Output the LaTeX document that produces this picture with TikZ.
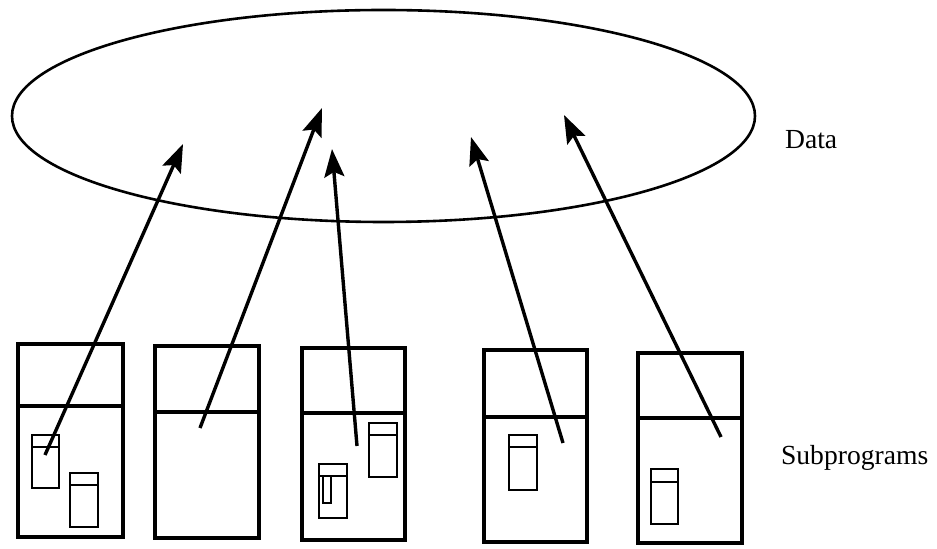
\documentclass[tikz,border=0pt]{standalone}
\usepackage{fontspec}
\setmainfont{Liberation Serif}
\usetikzlibrary{arrows.meta}

\begin{document}
\begin{tikzpicture}[x=0.5pt,y=-0.5pt,
					prog/.style={line width=1.8pt},
					part/.style={line width=0.9pt},
					link/.style={line width=1.7pt, -{Stealth[length=14pt,width=10pt,inset=2.5pt]}},
					label/.style={anchor=west, font=\fontsize{13.8}{16}\selectfont},
					]
					\useasboundingbox (0,0) rectangle (937,549);
					%Data
					\draw[line width=1.3pt] (383.5,116) ellipse [x radius=371.5, y radius=106];
					\node[label] (datalabel) at (778,140) {Data};
					\node[label] (sublabel) at (774,458) {Subprograms};
					
					%Subprograms
					\draw[prog] (18,344) rectangle (123,537);  \draw[prog] (18,406) -- (123,406);
					\draw[prog] (155,346) rectangle (259,538); \draw[prog] (155,412) -- (259,412);
					\draw[prog] (302,348) rectangle (405,540); \draw[prog] (302,413) -- (405,413);
					\draw[prog] (484,350) rectangle (587,542); \draw[prog] (484,417) -- (587,417);
					\draw[prog] (638,353) rectangle (742,543); \draw[prog] (638,418) -- (742,418);
					
					%Parts
					\draw[part] (32,435) rectangle (59,488);   \draw[part] (32,447) -- (59,447);
					\draw[part] (70,473) rectangle (98,527);   \draw[part] (70,485) -- (98,485);
					\draw[part] (369,423) rectangle (397,477); \draw[part] (369,435) -- (397,435);
					\draw[part] (319,464) rectangle (347,518); \draw[part] (319,476) -- (347,476);
					\draw[part] (323,476) rectangle (331,503);
					\draw[part] (509,435) rectangle (537,490); \draw[part] (509,447) -- (537,447);
					\draw[part] (651,469) rectangle (678,524); \draw[part] (651,482) -- (678,482);
					
					%Lines
					\coordinate (p1) at (45,455);  \coordinate (d1) at (183,144);
					\coordinate (p2) at (200,428); \coordinate (d2) at (322,108);
					\coordinate (p3) at (357,446); \coordinate (d3) at (332,149);
					\coordinate (p4) at (563,443); \coordinate (d4) at (471,137);
					\coordinate (p5) at (721,437); \coordinate (d5) at (564,115);
					\foreach \i in {1,...,5}
						\draw[link] (p\i) -- (d\i);
				\end{tikzpicture}
\end{document}
